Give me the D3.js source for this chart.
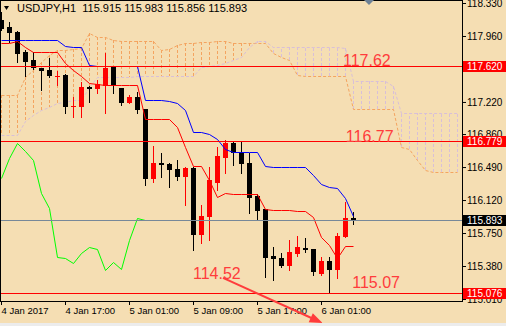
<!DOCTYPE html>
<html><head><meta charset="utf-8">
<script src="https://cdn.jsdelivr.net/npm/d3@7"></script>
<style>
body{margin:0;background:#f5deb3;}
svg{display:block;font-family:"Liberation Sans",Arial,sans-serif;}
</style></head><body>
<div id="chart"></div>
<script>
// hourly bars, index 0 = 4 Jan 09:00
const opens=[118.139,118.061,118.005,117.780,117.691,117.601,117.579,117.508,117.522,117.175,117.175,117.393,117.377,117.410,117.612,117.377,117.220,117.276,117.141,116.367,116.530,116.524,116.468,116.390,116.479,115.738,115.940,116.322,116.603,116.760,116.659,116.535,116.165,116.019,115.492,115.470,115.391,115.526,115.587,115.570,115.302,115.436,115.347,115.716,115.915];
const highs=[118.229,118.117,118.016,117.803,117.780,117.601,117.713,117.567,117.534,117.276,117.444,117.399,117.466,117.769,117.623,117.377,117.298,117.332,117.141,116.726,116.648,116.535,116.569,116.491,116.491,116.064,116.491,116.715,116.793,116.779,116.771,116.648,116.188,116.019,115.593,115.526,115.671,115.716,115.694,115.570,115.481,115.481,115.750,116.098,115.983];
const lows=[118.027,117.893,117.668,117.511,117.590,117.354,117.500,117.410,117.096,117.051,117.051,117.220,117.321,117.096,117.321,117.186,117.208,117.096,116.289,116.322,116.378,116.266,116.345,116.064,115.559,115.638,115.671,116.233,116.423,116.513,116.423,115.974,115.893,115.257,115.224,115.369,115.335,115.492,115.537,115.279,115.279,115.076,115.246,115.705,115.856];
const closes=[118.050,118.005,117.769,117.679,117.612,117.573,117.517,117.514,117.175,117.180,117.388,117.382,117.422,117.601,117.410,117.220,117.276,117.141,116.367,116.535,116.519,116.468,116.390,116.479,115.738,115.940,116.345,116.614,116.760,116.659,116.535,116.154,116.008,115.481,115.470,115.391,115.537,115.593,115.576,115.324,115.436,115.347,115.716,115.918,115.893];

// ichimoku lines
const tenkan=[117.881,117.881,117.904,117.837,117.780,117.780,117.780,117.780,117.657,117.579,117.511,117.433,117.416,117.410,117.410,117.410,117.410,117.410,117.029,117.029,117.029,117.029,116.939,116.715,116.502,116.502,116.345,116.154,116.199,116.188,116.188,116.188,116.188,116.019,116.008,116.008,116.008,115.997,115.997,115.930,115.705,115.616,115.470,115.600,115.600];
const kijun=[117.915,117.915,117.915,117.915,117.915,117.915,117.915,117.915,117.848,117.837,117.837,117.635,117.623,117.623,117.623,117.623,117.623,117.623,117.242,117.242,117.242,117.231,117.208,117.130,116.883,116.883,116.861,116.805,116.692,116.659,116.659,116.659,116.659,116.502,116.491,116.491,116.491,116.491,116.491,116.401,116.300,116.266,116.255,116.143,115.941];
const spanA=[117.298,117.298,117.298,117.500,117.579,117.668,117.747,117.803,117.803,117.814,117.825,117.994,117.949,117.949,117.915,117.904,117.904,117.904,117.904,117.904,117.803,117.814,117.859,117.881,117.881,117.893,117.893,117.904,117.904,117.881,117.881,117.881,117.881,117.881,117.769,117.724,117.691,117.522,117.511,117.511,117.511,117.511,117.511,117.511,117.141,117.141,117.141,117.141,117.141,117.141,116.715,116.692,116.569,116.457,116.435,116.435,116.435,116.435];
const spanB=[116.849,116.849,116.849,117.007,117.074,117.130,117.163,117.208,117.220,117.242,117.242,117.388,117.500,117.500,117.500,117.500,117.500,117.511,117.511,117.511,117.511,117.511,117.511,117.511,117.511,117.612,117.623,117.635,117.657,117.691,117.724,117.837,117.904,117.904,117.837,117.837,117.837,117.837,117.837,117.837,117.837,117.837,117.837,117.825,117.455,117.455,117.455,117.455,117.455,117.399,117.096,117.096,117.096,117.096,117.096,117.096,117.096,117.096];
const chikou=[116.367,116.592,116.760,116.670,116.569,116.199,116.031,115.481,115.470,115.414,115.526,115.593,115.571,115.335,115.425,115.347,115.672,115.918,115.893];

const timeTicks=[0,8,16,24,32,40];
const timeLabels=["4 Jan 2017","4 Jan 17:00","5 Jan 01:00","5 Jan 09:00","5 Jan 17:00","6 Jan 01:00"];
const priceTicks=[118.33,117.96,117.22,116.86,116.49,116.12,115.75,115.38,115.01];
const levels=[117.62,116.779,115.076];
const bid=115.893;
const noteText=["117.62","116.77","114.52","115.07"];
const noteIdx=[42.75,43.1,24,43.9];
const notePrice=[117.62,116.77,115.234,115.133];
const arrowFrom=[27.75,115.246], arrowTo=[40.2,114.74];
const title="USDJPY,H1  115.915 115.983 115.856 115.893";

const W=506,H=326,plotR=462,plotB=301;
const x=d3.scaleLinear().domain([0,57]).range([1,457]);
const y=d3.scaleLinear().domain([118.33,115.01]).range([3,299]);
const py=p=>Math.round(y(p));

const svg=d3.select("#chart").append("svg").attr("width",W).attr("height",H);
svg.append("rect").attr("width",W).attr("height",H).attr("fill","#f5deb3");
svg.append("clipPath").attr("id","plot").append("rect").attr("x",0).attr("y",0).attr("width",plotR).attr("height",plotB);
const g=svg.append("g").attr("clip-path","url(#plot)");

// cloud hatch
g.selectAll(".hatch").data(spanA).enter().append("line")
  .attr("x1",(d,i)=>x(i)+0.5).attr("x2",(d,i)=>x(i)+0.5)
  .attr("y1",d=>py(d)).attr("y2",(d,i)=>py(spanB[i]))
  .attr("stroke",(d,i)=>d>=spanB[i]?"#f4a460":"#d8bfd8")
  .attr("stroke-dasharray","3,2");
const line=d3.line().x((d,i)=>x(i)+0.5).y(d=>py(d)+0.5);
g.append("path").attr("d",line(spanA)).attr("fill","none").attr("stroke","#f4a460").attr("stroke-dasharray","3,2");
g.append("path").attr("d",line(spanB)).attr("fill","none").attr("stroke","#d8bfd8").attr("stroke-dasharray","3,2");

// candles
const bars=d3.range(opens.length);
g.selectAll(".wick").data(bars).enter().append("rect")
  .attr("x",i=>x(i)).attr("width",1)
  .attr("y",i=>py(highs[i])).attr("height",i=>py(lows[i])-py(highs[i])+1)
  .attr("fill",i=>closes[i]>opens[i]?"#ff0000":"#000");
g.selectAll(".body").data(bars).enter().append("rect")
  .attr("x",i=>x(i)-2).attr("width",5)
  .attr("y",i=>py(Math.max(opens[i],closes[i])))
  .attr("height",i=>Math.max(1,py(Math.min(opens[i],closes[i]))-py(Math.max(opens[i],closes[i]))+1))
  .attr("fill",i=>closes[i]>opens[i]?"#ff0000":"#000");

// lines
g.append("path").attr("d",line(tenkan)).attr("fill","none").attr("stroke","#ff0000");
g.append("path").attr("d",line(kijun)).attr("fill","none").attr("stroke","#0000ff");
g.append("path").attr("d",line(chikou)).attr("fill","none").attr("stroke","#00ff00");

// horizontal levels
g.selectAll(".lvl").data(levels).enter().append("line")
  .attr("x1",0).attr("x2",plotR).attr("y1",d=>py(d)+0.5).attr("y2",d=>py(d)+0.5)
  .attr("stroke","#ff0000");
g.append("line").attr("x1",0).attr("x2",plotR).attr("y1",py(bid)+0.5).attr("y2",py(bid)+0.5).attr("stroke","#778899");

// frame
svg.append("rect").attr("x",0.5).attr("y",0.5).attr("width",plotR).attr("height",plotB)
  .attr("fill","none").attr("stroke","#000");

// price axis
const ya=svg.append("g").attr("transform",`translate(${plotR},0)`)
  .call(d3.axisRight(y).tickValues(priceTicks).tickFormat(d3.format(".3f")).tickSize(4).tickSizeOuter(0).tickPadding(1));
ya.select(".domain").remove();
ya.selectAll("text").attr("font-size",10).attr("font-family","Liberation Sans, Arial, sans-serif").attr("fill","#000");

// time axis
const xa=svg.append("g").attr("transform",`translate(0,${plotB})`)
  .call(d3.axisBottom(x).tickValues(timeTicks).tickFormat((d,i)=>timeLabels[i]).tickSize(4).tickSizeOuter(0));
xa.select(".domain").remove();
xa.selectAll("text").attr("text-anchor","start").attr("x",0).attr("y",13).attr("dy",0)
  .attr("font-size",9.5).attr("font-family","Liberation Sans, Arial, sans-serif").attr("fill","#000");

// price boxes
const boxes=levels.map(d=>({p:d,c:"#ff0000"})).concat([{p:bid,c:"#000"}]);
boxes.forEach(b=>{
  svg.append("rect").attr("x",plotR+1).attr("y",py(b.p)-5).attr("width",W-plotR-1).attr("height",11).attr("fill",b.c);
  svg.append("text").attr("x",plotR+5).attr("y",py(b.p)+4).attr("font-size",10).attr("fill","#fff").text(b.p.toFixed(3));
});

// title
svg.append("path").attr("d","M4,6L9,6L6.5,10Z").attr("fill","#000");
svg.append("text").attr("x",17).attr("y",12).attr("font-size",11).attr("fill","#000").attr("xml:space","preserve").text(title);

// shift marker
svg.append("path").attr("d",`M${x(46)-5},0L${x(46)+5},0L${x(46)},5Z`).attr("fill","#6e8196");

// annotations
svg.selectAll(".note").data(noteText).enter().append("text")
  .attr("x",(d,i)=>x(noteIdx[i])).attr("y",(d,i)=>y(notePrice[i]))
  .attr("font-size",16).attr("fill","#ff3c3c").text(d=>d);

// bottom strip
svg.append("rect").attr("x",0).attr("y",323).attr("width",W).attr("height",3).attr("fill","#ececec");

// arrow
const ax1=x(arrowFrom[0]),ay1=y(arrowFrom[1]),ax2=x(arrowTo[0]),ay2=y(arrowTo[1]);
const ang=Math.atan2(ay2-ay1,ax2-ax1);
svg.append("line").attr("x1",ax1).attr("y1",ay1).attr("x2",ax2-8*Math.cos(ang)).attr("y2",ay2-8*Math.sin(ang))
  .attr("stroke","#ff3c3c").attr("stroke-width",2);
const hl=13,hw=5;
svg.append("path").attr("fill","#ff3c3c").attr("d",
  `M${ax2},${ay2}L${ax2-hl*Math.cos(ang)+hw*Math.sin(ang)},${ay2-hl*Math.sin(ang)-hw*Math.cos(ang)}L${ax2-hl*Math.cos(ang)-hw*Math.sin(ang)},${ay2-hl*Math.sin(ang)+hw*Math.cos(ang)}Z`);
</script>
</body></html>
